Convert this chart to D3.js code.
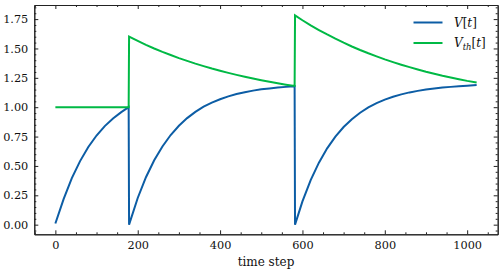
<!DOCTYPE html>
<html>
<head>
<meta charset="utf-8">
<script src="https://cdn.jsdelivr.net/npm/d3@7"></script>
<style>
  html, body { margin: 0; padding: 0; background: #fff; }
  svg { display: block; }
</style>
</head>
<body>
<div id="chart"></div>
<script>
// time steps where values were read (spikes at 178 -> 179 and 581 -> 582)
const timeSteps = [
  0, 20, 40, 60, 80, 100, 120, 140, 160, 178,
  179, 200, 220, 240, 260, 280, 300, 320, 340, 360, 380, 400, 420, 440, 460, 480, 500, 520, 540, 560, 581,
  582, 600, 620, 640, 660, 680, 700, 720, 740, 760, 780, 800, 820, 840, 860, 880, 900, 920, 940, 960, 980, 1000, 1023
];

const membrane = [
  0.01, 0.218, 0.396, 0.541, 0.661, 0.759, 0.839, 0.904, 0.958, 1.0,
  0.0, 0.227, 0.404, 0.548, 0.666, 0.763, 0.842, 0.907, 0.960, 1.004, 1.039, 1.068, 1.092, 1.112, 1.128, 1.141, 1.152, 1.160, 1.168, 1.173, 1.179,
  0.0, 0.198, 0.379, 0.528, 0.650, 0.750, 0.831, 0.898, 0.953, 0.998, 1.034, 1.064, 1.089, 1.109, 1.126, 1.139, 1.150, 1.159, 1.167, 1.173, 1.178, 1.183, 1.188
];

const threshold = [
  1.0, 1.0, 1.0, 1.0, 1.0, 1.0, 1.0, 1.0, 1.0, 1.0,
  1.6, 1.564, 1.531, 1.5, 1.471, 1.444, 1.418, 1.394, 1.371, 1.35, 1.329, 1.31, 1.292, 1.275, 1.259, 1.244, 1.23, 1.217, 1.204, 1.192, 1.181,
  1.781, 1.74, 1.697, 1.657, 1.619, 1.583, 1.549, 1.517, 1.487, 1.459, 1.433, 1.407, 1.384, 1.362, 1.341, 1.321, 1.302, 1.285, 1.268, 1.253, 1.238, 1.224, 1.211
];

const xTicks = [0, 200, 400, 600, 800, 1000];
const yTicks = [0, 0.25, 0.5, 0.75, 1.0, 1.25, 1.5, 1.75];

const seriesNames = ['V', 'Vth'];
const seriesColors = ['#0C5DA5', '#00B945'];

const width = 503, height = 275;
const margin = {top: 5, right: 5.3, bottom: 40.7, left: 34.3};
const fontStack = 'DejaVu Serif';

const svg = d3.select('#chart').append('svg')
    .attr('width', width)
    .attr('height', height);

const x = d3.scaleLinear()
    .domain([-51.15, 1074.15])
    .range([margin.left, width - margin.right]);
const y = d3.scaleLinear()
    .domain([-0.082, 1.870])
    .range([height - margin.bottom, margin.top]);

const xMinor = d3.range(-50, 1051, 50).filter((v) => v % 200 !== 0);
const yMinor = d3.range(-5, 186, 5).map((v) => v / 100)
    .filter((v) => Math.round(v * 100) % 25 !== 0);

// lines
const line = (vals) => d3.line()
    .x((d, i) => x(timeSteps[i]))
    .y((d) => y(d))(vals);

[membrane, threshold].forEach((vals, i) => {
  svg.append('path')
      .attr('d', line(vals))
      .attr('fill', 'none')
      .attr('stroke', seriesColors[i])
      .attr('stroke-width', 2)
      .attr('stroke-linejoin', 'miter');
});

// axes: inward ticks on all four sides
const styleAxis = (g) => {
  g.attr('font-family', fontStack);
  g.select('.domain').attr('stroke', '#222').attr('stroke-width', 1);
  g.selectAll('.tick line').attr('stroke', '#222').attr('stroke-width', 1);
  g.selectAll('text').attr('font-size', 11.3).attr('fill', '#111');
};

const plotBottom = height - margin.bottom, plotLeft = margin.left;
const plotTop = margin.top, plotRight = width - margin.right;

svg.append('g').attr('transform', `translate(0,${plotBottom})`)
    .call(d3.axisBottom(x).tickValues(xMinor).tickSize(-2).tickSizeOuter(0).tickFormat(''))
    .call(styleAxis);
svg.append('g').attr('transform', `translate(0,${plotBottom})`)
    .call(d3.axisBottom(x).tickValues(xTicks).tickSize(-4).tickSizeOuter(0).tickPadding(7)
        .tickFormat(d3.format('d')))
    .call(styleAxis);
svg.append('g').attr('transform', `translate(0,${plotTop})`)
    .call(d3.axisTop(x).tickValues(xMinor).tickSize(-2).tickSizeOuter(0).tickFormat(''))
    .call(styleAxis);
svg.append('g').attr('transform', `translate(0,${plotTop})`)
    .call(d3.axisTop(x).tickValues(xTicks).tickSize(-4).tickSizeOuter(0).tickFormat(''))
    .call(styleAxis);

svg.append('g').attr('transform', `translate(${plotLeft},0)`)
    .call(d3.axisLeft(y).tickValues(yMinor).tickSize(-2).tickSizeOuter(0).tickFormat(''))
    .call(styleAxis);
svg.append('g').attr('transform', `translate(${plotLeft},0)`)
    .call(d3.axisLeft(y).tickValues(yTicks).tickSize(-4).tickSizeOuter(0).tickPadding(6)
        .tickFormat(d3.format('.2f')))
    .call(styleAxis);
svg.append('g').attr('transform', `translate(${plotRight},0)`)
    .call(d3.axisRight(y).tickValues(yMinor).tickSize(-2).tickSizeOuter(0).tickFormat(''))
    .call(styleAxis);
svg.append('g').attr('transform', `translate(${plotRight},0)`)
    .call(d3.axisRight(y).tickValues(yTicks).tickSize(-4).tickSizeOuter(0).tickFormat(''))
    .call(styleAxis);

// x label
svg.append('text')
    .attr('x', (plotLeft + plotRight) / 2)
    .attr('y', 266)
    .attr('text-anchor', 'middle')
    .attr('font-family', fontStack)
    .attr('font-size', 12)
    .attr('fill', '#111')
    .text('time step');

// legend
const legend = svg.append('g').attr('font-family', fontStack);
seriesNames.forEach((name, i) => {
  const ly = 22.5 + i * 20.5;
  legend.append('line')
      .attr('x1', 413.5).attr('x2', 442.5)
      .attr('y1', ly).attr('y2', ly)
      .attr('stroke', seriesColors[i])
      .attr('stroke-width', 2);
  const t = legend.append('text')
      .attr('x', 454)
      .attr('y', ly + 4.2)
      .attr('font-family', fontStack)
      .attr('font-size', 12)
      .attr('fill', '#111');
  t.append('tspan').attr('font-style', 'italic').text('V');
  if (name === 'Vth') {
    t.append('tspan').attr('font-style', 'italic').attr('font-size', 8.5)
        .attr('dy', 2.5).text('th');
    t.append('tspan').attr('dy', -2.5).text('[');
  } else {
    t.append('tspan').text('[');
  }
  t.append('tspan').attr('font-style', 'italic').text('t');
  t.append('tspan').text(']');
});
</script>
</body>
</html>
